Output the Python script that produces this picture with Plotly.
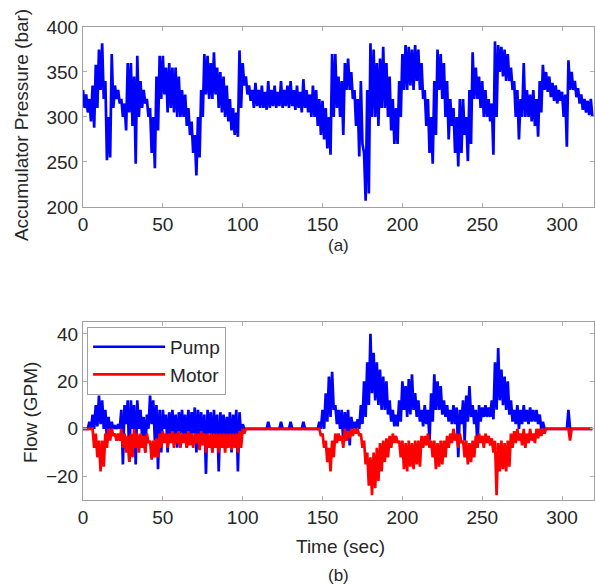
import plotly.graph_objects as go

# ---------------- data (2-s bins: upper / lower value in each bin) ----------------
time_s = list(range(0, 320, 2))

pressure_hi = [330, 325, 320, 335, 358, 375, 382, 340, 300, 370,
               335, 330, 320, 315, 360, 360, 345, 368, 340, 330,
               320, 310, 300, 345, 368, 368, 355, 360, 355, 355,
               345, 330, 325, 310, 295, 280, 300, 330, 370, 368,
               360, 372, 355, 350, 345, 335, 320, 310, 305, 374,
               360, 345, 335, 330, 338, 330, 335, 328, 340, 330,
               335, 328, 340, 330, 335, 340, 330, 335, 328, 342,
               330, 325, 335, 330, 320, 318, 310, 300, 370, 370,
               345, 340, 360, 365, 350, 330, 320, 340, 260, 330,
               382, 375, 360, 365, 378, 360, 345, 320, 310, 340,
               370, 380, 378, 375, 380, 375, 360, 330, 320, 300,
               340, 375, 370, 360, 340, 320, 310, 300, 320, 320,
               300, 330, 372, 355, 345, 340, 330, 320, 315, 384,
               380, 378, 375, 370, 355, 340, 330, 320, 360, 330,
               325, 330, 320, 340, 358, 350, 345, 338, 335, 330,
               328, 325, 363, 350, 340, 332, 325, 320, 318, 320]

pressure_lo = [310, 305, 295, 288, 310, 330, 320, 252, 255, 310,
               320, 315, 300, 285, 305, 290, 248, 300, 310, 315,
               300, 260, 243, 285, 320, 325, 305, 310, 305, 300,
               300, 300, 290, 280, 260, 235, 255, 300, 325, 320,
               320, 325, 310, 305, 300, 295, 285, 280, 278, 310,
               335, 325, 318, 310, 312, 310, 310, 308, 310, 312,
               310, 312, 310, 312, 310, 312, 308, 310, 305, 310,
               305, 300, 300, 290, 280, 275, 265, 258, 300, 310,
               300, 280, 330, 330, 320, 290, 256, 270, 207, 215,
               300, 300, 290, 310, 310, 300, 285, 270, 270, 300,
               330, 330, 335, 330, 340, 330, 320, 290, 260, 248,
               280, 330, 320, 300, 275, 290, 260, 245, 260, 280,
               251, 270, 320, 320, 310, 300, 300, 295, 258, 300,
               350, 345, 340, 340, 330, 300, 275, 300, 300, 300,
               295, 290, 278, 305, 330, 328, 322, 318, 315, 318,
               300, 267, 330, 330, 322, 315, 308, 305, 302, 300]

pump_hi = [0, 0, 3, 6, 10, 14, 12, 8, 5, 3,
           1, 2, 8, 10, 12, 12, 10, 12, 8, 5,
           6, 14, 12, 10, 8, 8, 6, 7, 8, 6,
           7, 8, 6, 8, 7, 9, 8, 7, 6, 8,
           7, 8, 6, 7, 6, 5, 7, 6, 8, 7,
           2, 0, 0, 0, 0, 0, 0, 0, 3, 0,
           0, 0, 3, 0, 0, 3, 0, 0, 0, 3,
           0, 0, 0, 0, 3, 8, 15, 22, 24, 10,
           8, 8, 7, 8, 5, 3, 4, 10, 20, 28,
           40, 32, 28, 25, 22, 20, 12, 8, 6, 12,
           20, 18, 21, 23, 15, 12, 8, 10, 8, 15,
           23, 20, 18, 12, 10, 8, 10, 9, 8, 12,
           14, 18, 10, 8, 10, 9, 10, 9, 12, 28,
           34, 25, 22, 20, 12, 8, 10, 8, 10, 8,
           9, 8, 8, 6, 3, 0, 0, 0, 0, 0,
           0, 0, 8, 0, 0, 0, 0, 0, 0, 0]

pump_lo = [0, 0, 0, 0, 1, 2, 0, -5, -3, 0,
           0, 0, -15, 2, -14, 0, -15, 0, -3, -10,
           0, 2, -5, -17, -10, 0, -10, -3, -5, -8,
           -2, -3, -8, -4, -2, -10, -3, -5, -19, -2,
           -10, -4, -18, -3, -8, -5, -10, -3, -18, -3,
           0, 0, 0, 0, 0, 0, 0, 0, 0, 0,
           0, 0, 0, 0, 0, 0, 0, 0, 0, 0,
           0, 0, 0, 0, 0, 0, 3, 5, 8, 2,
           0, -6, -2, -7, 0, 0, 0, 2, 5, 10,
           15, 12, 10, 8, 8, 6, 3, 1, 1, 3,
           8, 5, 6, 8, 5, 3, 1, 2, -5, 3,
           8, 8, 6, 5, 3, 2, 2, -12, 2, -5,
           3, 5, 2, -8, 3, 5, 5, 5, 4, 8,
           12, 10, 8, 6, 3, 2, 0, 2, 3, 2,
           3, 3, 2, 0, 0, 0, 0, 0, 0, 0,
           0, 0, 0, 0, 0, 0, 0, 0, 0, 0]

motor_hi = [0, 0, 0, 0, -2, -5, -5, -2, 0, 0,
            -2, -2, 0, -2, -3, -2, 0, -2, -2, -3,
            -2, -5, -5, -4, -2, -1, -2, -2, -1, -2,
            -1, -2, -2, -1, -2, -2, -2, -1, -2, -2,
            -2, -2, -2, -2, -2, -2, -2, -2, -2, -1,
            0, 0, 0, 0, 0, 0, 0, 0, 0, 0,
            0, 0, 0, 0, 0, 0, 0, 0, 0, 0,
            0, 0, 0, 0, 0, -2, -5, -8, -5, -2,
            -2, -3, 0, -1, 0, 0, 0, -2, -5, -10,
            -12, -10, -8, -6, -5, -4, -3, -2, -3, -5,
            -5, -6, -5, -6, -5, -5, -3, -3, -2, -5,
            -5, -6, -5, -5, -3, -2, 0, -2, -2, -5,
            -5, -6, -5, -3, -2, -3, -2, -3, -4, -5,
            -6, -5, -6, -5, -2, -1, 0, -2, 0, -2,
            0, -2, 0, 0, 0, 0, 0, 0, 0, 0,
            0, 0, 0, 0, 0, 0, 0, 0, 0, 0]

motor_lo = [0, 0, 0, -8, -12, -18, -16, -8, -5, -3,
            -5, -5, -8, -10, -14, -12, -8, -10, -8, -10,
            -6, -13, -12, -12, -8, -6, -8, -6, -8, -6,
            -8, -6, -8, -7, -8, -6, -9, -7, -10, -8,
            -10, -8, -10, -8, -10, -8, -9, -8, -10, -8,
            -2, 0, 0, 0, 0, 0, 0, 0, 0, 0,
            0, 0, 0, 0, 0, 0, 0, 0, 0, 0,
            0, 0, 0, 0, -3, -8, -14, -18, -12, -6,
            -5, -8, -5, -4, -3, -2, -3, -8, -15, -24,
            -28, -25, -22, -18, -14, -12, -8, -6, -6, -12,
            -17, -18, -16, -17, -15, -16, -8, -7, -8, -12,
            -17, -16, -15, -12, -8, -6, -5, -8, -6, -12,
            -15, -14, -12, -8, -6, -8, -6, -7, -10, -28,
            -18, -17, -18, -16, -8, -6, -5, -7, -8, -6,
            -5, -6, -4, -3, -2, 0, 0, 0, 0, 0,
            0, 0, -5, 0, 0, 0, 0, 0, 0, 0]

x_ticks = [0, 50, 100, 150, 200, 250, 300]
p_ticks = [200, 250, 300, 350, 400]
f_ticks = [-20, 0, 20, 40]


def zigzag(t, hi, lo):
    xs, ys = [], []
    for ti, h, l in zip(t, hi, lo):
        xs += [ti, ti + 1]
        ys += [h, l]
    return xs, ys


FONT = "Liberation Sans, Arial, Helvetica, sans-serif"
TXT = "#262626"
LW = 2.7

fig = go.Figure()

px_, py_ = zigzag(time_s, pressure_hi, pressure_lo)
fig.add_trace(go.Scatter(x=px_, y=py_, mode="lines", line=dict(color="#0000ff", width=LW),
                         showlegend=False, xaxis="x", yaxis="y"))

ux, uy = zigzag(time_s, pump_hi, pump_lo)
fig.add_trace(go.Scatter(x=ux, y=uy, mode="lines", name="Pump",
                         line=dict(color="#0000ff", width=LW), xaxis="x2", yaxis="y2"))
mx, my = zigzag(time_s, motor_hi, motor_lo)
fig.add_trace(go.Scatter(x=mx, y=my, mode="lines", name="Motor",
                         line=dict(color="#ff0000", width=LW), xaxis="x2", yaxis="y2"))

axis_common = dict(showline=True, mirror="allticks", linecolor="#a0a0a0", linewidth=1,
                   ticks="inside", ticklen=4, tickcolor="#b0b0b0",
                   showgrid=False, zeroline=False, automargin=False,
                   tickfont=dict(family=FONT, size=19, color=TXT))

fig.update_layout(
    width=595, height=586,
    margin=dict(l=83, r=1, t=27, b=86),
    paper_bgcolor="white", plot_bgcolor="white",
    font=dict(family=FONT, size=19, color=TXT),
    xaxis=dict(domain=[0, 1], range=[0, 320], tickvals=x_ticks, anchor="y", **axis_common),
    yaxis=dict(domain=[0.6195, 1], range=[200, 400], tickvals=p_ticks, anchor="x", **axis_common),
    xaxis2=dict(domain=[0, 1], range=[0, 320], tickvals=x_ticks, anchor="y2", **axis_common),
    yaxis2=dict(domain=[0, 0.3763], range=[-30, 45], tickvals=f_ticks, anchor="x2", **axis_common),
    legend=dict(x=0.008, y=0.366, xanchor="left", yanchor="top", itemwidth=72,
                bgcolor="white", bordercolor="#a0a0a0", borderwidth=1,
                font=dict(family=FONT, size=19, color=TXT)),
    annotations=[
        dict(text="Accumulator Pressure (bar)", xref="paper", yref="paper",
             x=-0.119, y=0.793, textangle=-90, showarrow=False,
             xanchor="center", yanchor="middle", font=dict(size=19)),
        dict(text="Flow (GPM)", xref="paper", yref="paper",
             x=-0.104, y=0.186, textangle=-90, showarrow=False,
             xanchor="center", yanchor="middle", font=dict(size=19)),
        dict(text="(a)", xref="paper", yref="paper", x=0.5, y=0.539, showarrow=False,
             xanchor="center", yanchor="middle", font=dict(size=17)),
        dict(text="Time (sec)", xref="paper", yref="paper", x=0.503, y=-0.099, showarrow=False,
             xanchor="center", yanchor="middle", font=dict(size=19)),
        dict(text="(b)", xref="paper", yref="paper", x=0.5, y=-0.159, showarrow=False,
             xanchor="center", yanchor="middle", font=dict(size=17)),
    ],
)

fig.write_html("out.html", config={"displayModeBar": False},
               post_script="document.body.style.margin='0';document.body.style.overflow='hidden';")
